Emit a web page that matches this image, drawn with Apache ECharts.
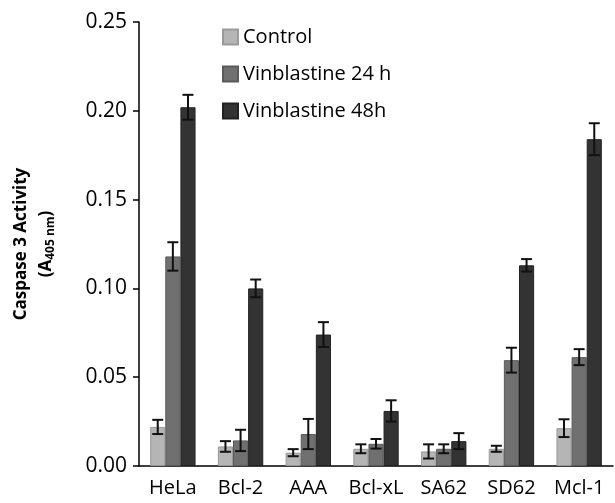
<!DOCTYPE html>
<html lang="en">
<head>
    <meta charset="UTF-8">
    <title>Caspase 3 Activity</title>
    <script src="https://cdn.jsdelivr.net/npm/echarts@6/dist/echarts.min.js"></script>
    <style>
        html, body { margin: 0; padding: 0; background: #fff; }
    </style>
</head>
<body>
    <div id="main" style="width: 615px;height:503px;"></div>
    <script type="text/javascript">
        // cell lines and the three treatments
        const categories = ['HeLa', 'Bcl-2', 'AAA', 'Bcl-xL', 'SA62', 'SD62', 'Mcl-1'];
        const seriesNames = ['Control', 'Vinblastine 24 h', 'Vinblastine 48h'];
        const control = [0.022, 0.011, 0.0075, 0.0097, 0.0082, 0.0097, 0.0213];
        const vin24 = [0.118, 0.0144, 0.018, 0.0125, 0.0097, 0.0596, 0.0613];
        const vin48 = [0.202, 0.100, 0.074, 0.031, 0.014, 0.113, 0.184];
        const controlErr = [0.004, 0.003, 0.002, 0.0025, 0.004, 0.0017, 0.005];
        const vin24Err = [0.008, 0.006, 0.0085, 0.0027, 0.0025, 0.007, 0.0045];
        const vin48Err = [0.007, 0.005, 0.007, 0.006, 0.0045, 0.0035, 0.009];
        const yTicks = [0, 0.05, 0.10, 0.15, 0.20, 0.25];

        const values = [control, vin24, vin48];
        const errors = [controlErr, vin24Err, vin48Err];
        const colors = ['#b5b5b5', '#707070', '#333333'];
        const borders = ['#9a9a9a', '#5a5a5a', '#222222'];
        const gapRatio = 0.33;

        let myChart = echarts.init(document.getElementById('main'));

        // error bar drawn on top of bar number k of the group
        function errorSeries(k) {
            return {
                type: 'custom',
                z: 10,
                data: values[k].map((v, i) => [i, v - errors[k][i], v + errors[k][i]]),
                renderItem: function (params, api) {
                    const band = api.size([1, 0])[0];
                    const bw = band * (1 - gapRatio) / 3;
                    const lo = api.coord([api.value(0), api.value(1)]);
                    const hi = api.coord([api.value(0), api.value(2)]);
                    const x = lo[0] + (k - 1) * bw;
                    const cap = 5.5;
                    const style = { stroke: '#111', lineWidth: 2, fill: null };
                    return {
                        type: 'group',
                        children: [
                            { type: 'line', shape: { x1: x, y1: lo[1], x2: x, y2: hi[1] }, style: style },
                            { type: 'line', shape: { x1: x - cap, y1: lo[1], x2: x + cap, y2: lo[1] }, style: style },
                            { type: 'line', shape: { x1: x - cap, y1: hi[1], x2: x + cap, y2: hi[1] }, style: style }
                        ]
                    };
                }
            };
        }

        const barSeries = seriesNames.map((name, k) => ({
            name: name,
            type: 'bar',
            data: values[k],
            barGap: 0,
            barCategoryGap: (gapRatio * 100) + '%',
            itemStyle: { color: colors[k], borderColor: borders[k], borderWidth: 1 }
        }));

        let options = {
            animation: false,
            textStyle: { fontFamily: 'Open Sans' },
            grid: { left: 139, right: 2, top: 22, bottom: 37 },
            legend: {
                data: seriesNames,
                orient: 'vertical',
                left: 217,
                top: 22,
                icon: 'rect',
                itemWidth: 15,
                itemHeight: 15,
                itemGap: 17,
                textStyle: { fontSize: 20, color: '#000', fontFamily: 'Open Sans' }
            },
            xAxis: {
                type: 'category',
                data: categories,
                axisLine: { lineStyle: { color: '#000', width: 1.5 } },
                axisTick: { alignWithLabel: false, length: 7, lineStyle: { color: '#000', width: 1.5 } },
                axisLabel: { interval: 0, color: '#000', fontSize: 20, margin: 12, fontFamily: 'Open Sans' }
            },
            yAxis: {
                type: 'value',
                min: yTicks[0],
                max: yTicks[yTicks.length - 1],
                interval: 0.05,
                splitLine: { show: false },
                axisLine: { show: true, lineStyle: { color: '#000', width: 1.5 } },
                axisTick: { show: true, length: 6, lineStyle: { color: '#000', width: 1.5 } },
                axisLabel: {
                    color: '#000', fontSize: 21, margin: 12, fontFamily: 'Open Sans',
                    formatter: v => v.toFixed(2)
                },
                name: '{b|Caspase 3 Activity}\n{b|(A}{sub|405 nm}{b|)}',
                nameLocation: 'middle',
                nameRotate: 90,
                nameGap: 80,
                nameTextStyle: {
                    rich: {
                        b: { fontSize: 17, fontWeight: 'bold', color: '#000', fontFamily: 'Open Sans', lineHeight: 25 },
                        sub: { fontSize: 12, fontWeight: 'bold', color: '#000', fontFamily: 'Open Sans', padding: [9, 0, 0, 0], lineHeight: 25 }
                    }
                }
            },
            series: barSeries.concat([errorSeries(0), errorSeries(1), errorSeries(2)])
        };

        myChart.setOption(options);
    </script>
</body>
</html>
